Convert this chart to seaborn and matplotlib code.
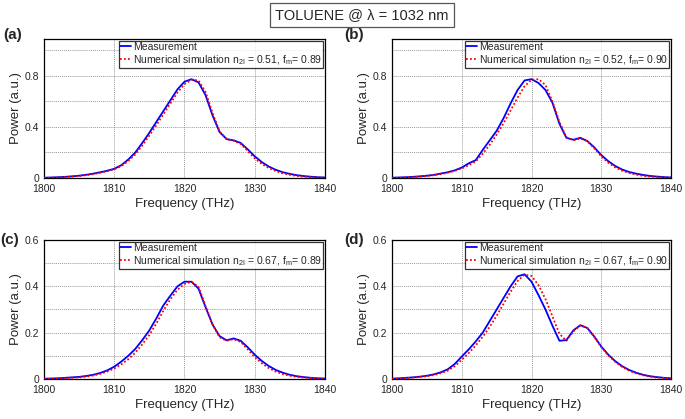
import numpy as np
import pandas as pd
import matplotlib
matplotlib.use("Agg")
import matplotlib.pyplot as plt
import seaborn as sns
from matplotlib.ticker import MultipleLocator, FixedLocator

# ---------------- data ----------------
freq = list(range(1800, 1841))

meas_a = [0.002, 0.004, 0.006, 0.009, 0.013, 0.018, 0.025, 0.034, 0.045, 0.057,
          0.072, 0.10, 0.145, 0.20, 0.275, 0.355, 0.44, 0.525, 0.61, 0.695,
          0.755, 0.775, 0.75, 0.65, 0.49, 0.36, 0.305, 0.295, 0.275, 0.225,
          0.17, 0.125, 0.09, 0.064, 0.045, 0.032, 0.022, 0.015, 0.010, 0.006, 0.004]
sim_a = [0.001, 0.002, 0.004, 0.007, 0.011, 0.016, 0.022, 0.030, 0.040, 0.053,
         0.068, 0.093, 0.133, 0.185, 0.255, 0.333, 0.415, 0.50, 0.585, 0.67,
         0.735, 0.77, 0.765, 0.675, 0.51, 0.365, 0.305, 0.293, 0.268, 0.212,
         0.155, 0.11, 0.078, 0.054, 0.037, 0.025, 0.016, 0.010, 0.006, 0.003, 0.002]

meas_b = [0.002, 0.004, 0.006, 0.009, 0.013, 0.018, 0.024, 0.035, 0.045, 0.060,
          0.082, 0.115, 0.14, 0.22, 0.295, 0.37, 0.47, 0.585, 0.69, 0.765,
          0.775, 0.745, 0.69, 0.59, 0.425, 0.315, 0.30, 0.315, 0.29, 0.24,
          0.18, 0.132, 0.094, 0.066, 0.047, 0.034, 0.024, 0.016, 0.011, 0.007, 0.004]
sim_b = [0.001, 0.002, 0.004, 0.007, 0.011, 0.016, 0.022, 0.030, 0.042, 0.056,
         0.075, 0.10, 0.13, 0.19, 0.26, 0.34, 0.43, 0.53, 0.63, 0.72,
         0.77, 0.775, 0.73, 0.60, 0.44, 0.32, 0.295, 0.31, 0.288, 0.233,
         0.17, 0.12, 0.083, 0.057, 0.039, 0.026, 0.017, 0.011, 0.007, 0.004, 0.002]

meas_c = [0.001, 0.002, 0.003, 0.005, 0.007, 0.009, 0.013, 0.018, 0.026, 0.037,
          0.053, 0.075, 0.10, 0.13, 0.168, 0.21, 0.262, 0.318, 0.36, 0.40,
          0.42, 0.42, 0.39, 0.31, 0.235, 0.185, 0.167, 0.175, 0.165, 0.137,
          0.105, 0.078, 0.056, 0.039, 0.027, 0.018, 0.012, 0.008, 0.005, 0.003, 0.002]
sim_c = [0.000, 0.001, 0.002, 0.003, 0.005, 0.007, 0.010, 0.015, 0.022, 0.032,
         0.045, 0.063, 0.085, 0.114, 0.15, 0.19, 0.24, 0.295, 0.345, 0.385,
         0.41, 0.42, 0.398, 0.315, 0.235, 0.18, 0.165, 0.172, 0.16, 0.128,
         0.095, 0.068, 0.047, 0.032, 0.021, 0.014, 0.009, 0.006, 0.004, 0.002, 0.001]

meas_d = [0.001, 0.003, 0.005, 0.007, 0.010, 0.014, 0.020, 0.029, 0.042, 0.065,
          0.097, 0.128, 0.162, 0.20, 0.25, 0.30, 0.35, 0.40, 0.443, 0.452,
          0.42, 0.362, 0.30, 0.23, 0.165, 0.168, 0.21, 0.232, 0.22, 0.183,
          0.14, 0.105, 0.077, 0.055, 0.039, 0.027, 0.018, 0.012, 0.008, 0.005, 0.003]
sim_d = [0.001, 0.002, 0.004, 0.006, 0.009, 0.012, 0.017, 0.025, 0.036, 0.055,
         0.083, 0.112, 0.145, 0.182, 0.225, 0.273, 0.325, 0.377, 0.423, 0.45,
         0.445, 0.405, 0.345, 0.27, 0.195, 0.165, 0.205, 0.232, 0.22, 0.182,
         0.138, 0.102, 0.074, 0.052, 0.036, 0.024, 0.016, 0.010, 0.006, 0.004, 0.002]

panel_letters = ["(a)", "(b)", "(c)", "(d)"]
n2i_values = ["0.51", "0.52", "0.67", "0.67"]
fm_values = ["0.89", "0.90", "0.89", "0.90"]
x_ticks = [1800, 1810, 1820, 1830, 1840]
title_text = "TOLUENE @ λ = 1032 nm"

# ---------------- style ----------------
sns.set_theme(style="white")
plt.rcParams["font.family"] = ["Liberation Sans", "DejaVu Sans"]
plt.rcParams["mathtext.fontset"] = "custom"
plt.rcParams["mathtext.rm"] = "Liberation Sans"
plt.rcParams["mathtext.it"] = "Liberation Sans"

fig = plt.figure(figsize=(6.85, 4.19), dpi=100)

positions = [
    [0.0642, 0.5752, 0.4102, 0.3317],
    [0.5723, 0.5752, 0.4073, 0.3317],
    [0.0642, 0.0955, 0.4102, 0.3317],
    [0.5723, 0.0955, 0.4073, 0.3317],
]
meas_all = [meas_a, meas_b, meas_c, meas_d]
sim_all = [sim_a, sim_b, sim_c, sim_d]
ylims = [(0, 1.09), (0, 1.09), (0, 0.6), (0, 0.6)]
ymajor = [[0, 0.4, 0.8], [0, 0.4, 0.8], [0, 0.2, 0.4, 0.6], [0, 0.2, 0.4, 0.6]]
ygrid = [0.2, 0.2, 0.1, 0.1]

for i in range(4):
    ax = fig.add_axes(positions[i])
    df = pd.DataFrame({"freq": freq, "meas": meas_all[i], "sim": sim_all[i]})
    sns.lineplot(data=df, x="freq", y="meas", ax=ax, color="#0000ff", lw=1.3,
                 label="Measurement", zorder=3)
    sim_label = (r"Numerical simulation n$_{\mathregular{2I}}$ = " + n2i_values[i]
                 + r", f$_{\mathregular{m}}$= " + fm_values[i])
    sns.lineplot(data=df, x="freq", y="sim", ax=ax, color="#ff0000", lw=1.3,
                 linestyle=(0, (1, 1.2)), label=sim_label, zorder=4)

    ax.set_xlim(1800, 1840)
    ax.set_ylim(*ylims[i])
    ax.xaxis.set_major_locator(FixedLocator(x_ticks))
    ax.yaxis.set_major_locator(FixedLocator(ymajor[i]))
    ax.yaxis.set_minor_locator(MultipleLocator(ygrid[i]))
    ax.set_xticklabels([str(t) for t in x_ticks])
    ax.set_yticklabels(["0" if v == 0 else f"{v:g}" for v in ymajor[i]])
    ax.tick_params(axis="both", which="both", direction="in", labelsize=7.5,
                   length=2.5, width=0.6, color="black")
    ax.tick_params(axis="x", pad=4)
    ax.tick_params(axis="y", pad=3.5)
    ax.tick_params(axis="y", which="minor", length=1.5)
    ax.grid(True, which="both", axis="y", color="#9a9a9a", linestyle=(0, (1, 1)), lw=0.7)
    ax.grid(True, which="major", axis="x", color="#9a9a9a", linestyle=(0, (1, 1)), lw=0.7)
    for s in ax.spines.values():
        s.set_color("black")
        s.set_linewidth(0.9)
    ax.set_xlabel("Frequency (THz)", fontsize=9.5, labelpad=3)
    ax.set_ylabel("Power (a.u.)", fontsize=9.5, labelpad=2)

    leg = ax.legend(loc="upper right", fontsize=7.5, frameon=True, fancybox=False,
                    handlelength=1.0, handletextpad=0.2, borderpad=0.15,
                    labelspacing=0.1, borderaxespad=0.15)
    leg.get_frame().set_edgecolor("black")
    leg.get_frame().set_linewidth(0.9)

# panel letters
letter_pos = [(0.005, 0.917), (0.502, 0.917), (0.0, 0.428), (0.502, 0.428)]
for (lx, ly), lt in zip(letter_pos, panel_letters):
    fig.text(lx, ly, lt, fontsize=11, fontweight="bold", ha="left", va="center")

# title box
fig.text(0.528, 0.965, title_text, fontsize=10.5, ha="center", va="center",
         bbox=dict(boxstyle="square,pad=0.35", facecolor="white", edgecolor="#555555", lw=0.9))

fig.savefig("out.png", dpi=100)
